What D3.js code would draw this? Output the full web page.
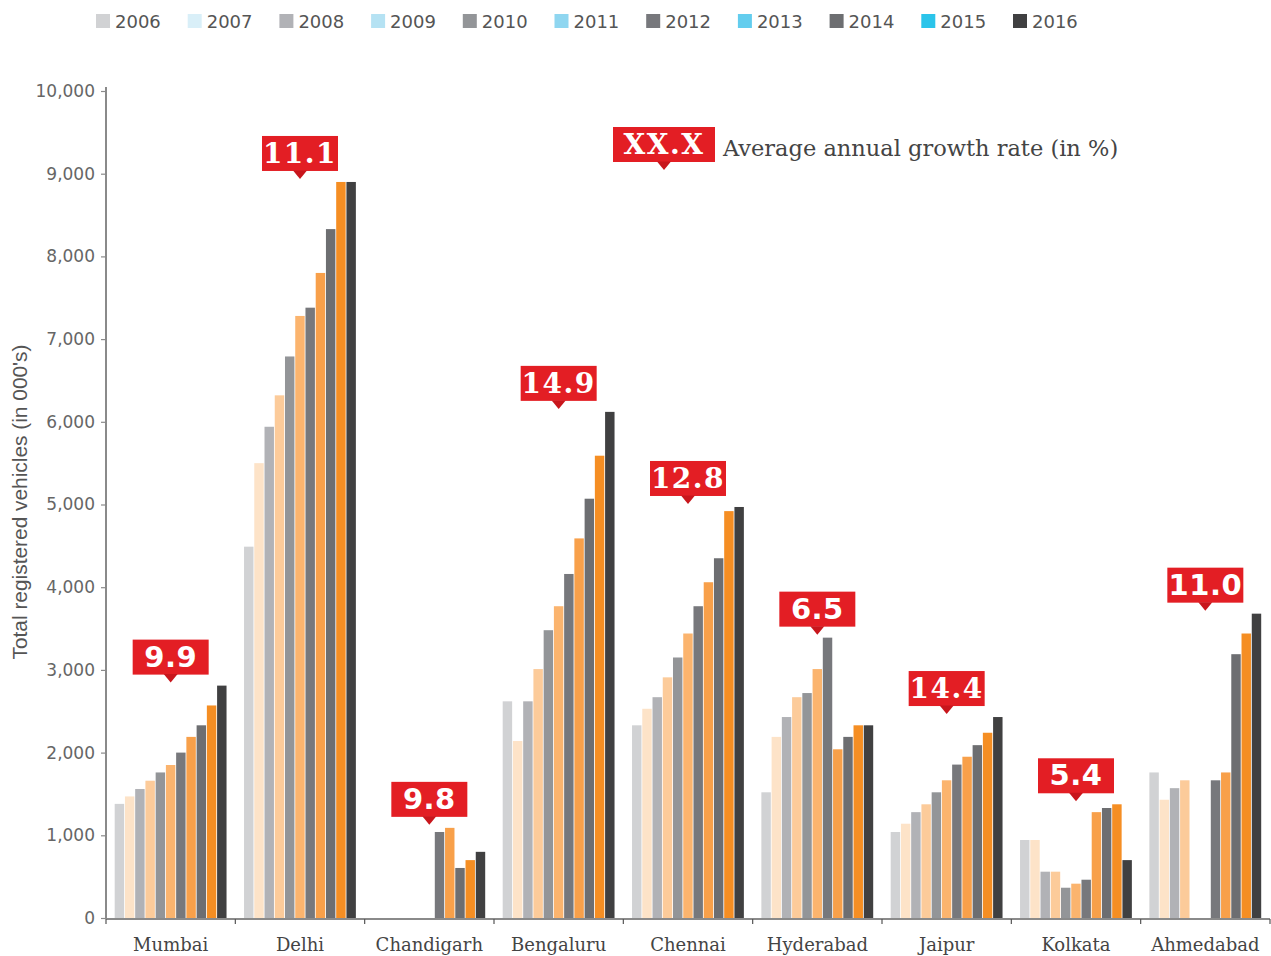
<!DOCTYPE html>
<html>
<head>
<meta charset="utf-8">
<script src="https://cdn.jsdelivr.net/npm/d3@7"></script>
<style>
  body { margin: 0; background: #fff; }
  svg { display: block; }
</style>
</head>
<body>
<svg id="canvas" width="1271" height="956"></svg>
<script>
// ************************************************************************************** //
// Data

var cities = ['Mumbai', 'Delhi', 'Chandigarh', 'Bengaluru', 'Chennai', 'Hyderabad', 'Jaipur', 'Kolkata', 'Ahmedabad'];
var years = ['2006', '2007', '2008', '2009', '2010', '2011', '2012', '2013', '2014', '2015', '2016'];

// registered vehicles (000's), one row per city, one value per year (null = no data)
var mumbai     = [1380, 1470, 1560, 1660, 1760, 1850, 2000, 2190, 2330, 2570, 2810];
var delhi      = [4490, 5500, 5940, 6320, 6790, 7280, 7380, 7800, 8330, 8900, 8900];
var chandigarh = [null, null, null, null, null, null, 1040, 1090, 605, 700, 800];
var bengaluru  = [2620, 2140, 2620, 3010, 3480, 3770, 4160, 4590, 5070, 5590, 6120];
var chennai    = [2330, 2530, 2670, 2910, 3150, 3440, 3770, 4060, 4350, 4920, 4970];
var hyderabad  = [1520, 2190, 2430, 2670, 2720, 3010, 3390, 2040, 2190, 2330, 2330];
var jaipur     = [1040, 1140, 1280, 1375, 1520, 1665, 1855, 1950, 2090, 2240, 2430];
var kolkata    = [943, 943, 560, 560, 366, 415, 463, 1280, 1330, 1375, 700];
var ahmedabad  = [1760, 1430, 1570, 1665, null, null, 1665, 1760, 3190, 3440, 3680];

var growth = ['9.9', '11.1', '9.8', '14.9', '12.8', '6.5', '14.4', '5.4', '11.0'];
var yTicks = [0, 1000, 2000, 3000, 4000, 5000, 6000, 7000, 8000, 9000, 10000];

var series = [mumbai, delhi, chandigarh, bengaluru, chennai, hyderabad, jaipur, kolkata, ahmedabad];

// ************************************************************************************** //
// Colours

var barColors = ['#d1d2d4', '#fde3c8', '#b1b2b6', '#fccb9a', '#939598', '#fbb46e',
                 '#77787c', '#f8a04a', '#6d6e71', '#f58e23', '#404041'];
var legendColors = ['#d1d2d4', '#d9eff8', '#b1b2b6', '#b5e2f3', '#939598', '#8fd6f0',
                    '#77787c', '#63cdee', '#6d6e71', '#2bc4ea', '#404041'];
var badgeRed = '#e31e24';
var slabCities = ['Delhi', 'Bengaluru', 'Chennai', 'Jaipur'];

// ************************************************************************************** //
// Scales

var svg = d3.select('#canvas');
var plotLeft = 106, plotRight = 1270, plotBottom = 918, plotTop = 91;

var x0 = d3.scaleBand().domain(cities).range([plotLeft, plotRight]).padding(0);
var x1 = d3.scaleBand().domain(years).range([8.7, x0.bandwidth() - 8]).padding(0);
var y = d3.scaleLinear().domain([0, 10000]).range([plotBottom, plotTop]);

// ************************************************************************************** //
// Bars

var groups = svg.selectAll('g.city').data(cities).enter().append('g')
  .attr('class', 'city')
  .attr('transform', function(d){ return 'translate(' + x0(d) + ',0)'; });

groups.selectAll('rect')
  .data(function(d, i){
    return years.map(function(yr, j){ return { year: yr, j: j, v: series[i][j] }; })
      .filter(function(e){ return e.v != null; });
  })
  .enter().append('rect')
  .attr('x', function(d){ return x1(d.year); })
  .attr('y', function(d){ return y(d.v); })
  .attr('width', x1.bandwidth() - 0.8)
  .attr('height', function(d){ return plotBottom - y(d.v); })
  .style('fill', function(d){ return barColors[d.j]; });

// ************************************************************************************** //
// Axes

var yAxis = svg.append('g').attr('transform', 'translate(' + plotLeft + ',0)')
  .call(d3.axisLeft(y).tickValues(yTicks).tickSize(5).tickPadding(6).tickFormat(d3.format(',')));
yAxis.select('.domain').attr('d', 'M0,' + (plotTop - 4) + 'V' + (plotBottom + 1)).style('stroke', '#8a8a8a').style('stroke-width', 2);
yAxis.selectAll('.tick line').style('stroke', '#8a8a8a').style('stroke-width', 1.2);
yAxis.selectAll('.tick text')
  .style('font-family', 'DejaVu Sans, sans-serif').style('font-size', '17px')
  .style('fill', '#666');

svg.append('line')
  .attr('x1', plotLeft).attr('x2', plotRight).attr('y1', plotBottom + 1).attr('y2', plotBottom + 1)
  .style('stroke', '#8a8a8a').style('stroke-width', 2);

var bounds = cities.map(function(c){ return x0(c); }).concat([plotRight]);
svg.selectAll('line.xtick').data(bounds).enter().append('line')
  .attr('class', 'xtick')
  .attr('x1', function(d){ return d; }).attr('x2', function(d){ return d; })
  .attr('y1', plotBottom + 1).attr('y2', plotBottom + 6)
  .style('stroke', '#555').style('stroke-width', 1.2);

svg.selectAll('text.city').data(cities).enter().append('text')
  .attr('class', 'city')
  .attr('x', function(d){ return x0(d) + x0.bandwidth() / 2; })
  .attr('y', 951)
  .attr('text-anchor', 'middle')
  .style('font-family', 'DejaVu Serif, serif').style('font-size', '18px')
  .style('fill', '#444')
  .text(function(d){ return d; });

svg.append('text')
  .attr('transform', 'translate(27,' + 502 + ') rotate(-90)')
  .attr('text-anchor', 'middle')
  .attr('textLength', 315).attr('lengthAdjust', 'spacingAndGlyphs')
  .style('font-family', 'Liberation Sans Narrow, Liberation Sans, sans-serif').style('font-size', '21px')
  .style('fill', '#555')
  .text("Total registered vehicles (in 000's)");

// ************************************************************************************** //
// Growth badges

function badge(g, cx, yb, label, slab, w){
  var h = 35;
  g.append('rect').attr('x', cx - w / 2).attr('y', yb - h).attr('width', w).attr('height', h).style('fill', badgeRed);
  g.append('path').attr('d', 'M' + (cx - 7) + ',' + (yb - 0.5) + 'L' + cx + ',' + (yb + 8) + 'L' + (cx + 7) + ',' + (yb - 0.5) + 'Z')
    .style('fill', '#c8161c');
  g.append('text').attr('x', cx).attr('y', yb - 8).attr('text-anchor', 'middle')
    .style('font-family', slab ? 'DejaVu Serif, serif' : 'DejaVu Sans, sans-serif')
    .style('font-weight', 'bold').style('font-size', slab ? '28px' : '29px')
    .style('letter-spacing', slab ? '1.5px' : '0.5px')
    .style('fill', '#fff').text(label);
}

cities.forEach(function(c, i){
  var mx = d3.max(series[i]);
  badge(svg.append('g'), x0(c) + x0.bandwidth() / 2, y(mx) - 11, growth[i], slabCities.indexOf(c) >= 0, 76);
});

// key
badge(svg.append('g'), 664, 162, 'XX.X', true, 102);
svg.append('text').attr('x', 723).attr('y', 156)
  .style('font-family', 'DejaVu Serif, serif').style('font-size', '22.5px').style('fill', '#444')
  .text('Average annual growth rate (in %)');

// ************************************************************************************** //
// Legend

var legend = svg.selectAll('g.legend').data(years).enter().append('g')
  .attr('class', 'legend')
  .attr('transform', function(d, i){ return 'translate(' + (96 + i * 91.7) + ',14)'; });
legend.append('rect').attr('width', 14).attr('height', 14)
  .style('fill', function(d, i){ return legendColors[i]; });
legend.append('text').attr('x', 19).attr('y', 14)
  .style('font-family', 'DejaVu Sans, sans-serif').style('font-size', '18px')
  .style('fill', '#555')
  .text(function(d){ return d; });
</script>
</body>
</html>
